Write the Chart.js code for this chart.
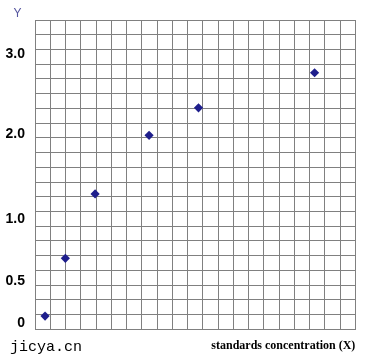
<!DOCTYPE html>
<html>
<head>
<meta charset="utf-8">
<script src="https://cdn.jsdelivr.net/npm/chart.js@4/dist/chart.umd.min.js"></script>
<style>
  html, body { margin: 0; padding: 0; background: #ffffff; }
  #wrap { width: 380px; height: 363px; }
</style>
</head>
<body>
<div id="wrap"><canvas id="c" width="380" height="363"></canvas></div>
<script>
// Positions measured in grid cells (21 x 21 grid)
const xValues = [0.66, 1.99, 3.94, 7.48, 10.72, 18.33];
const yValues = [0.90, 4.82, 9.19, 13.17, 15.04, 17.42];
// Y-axis labels and where they sit (in grid cells)
const yTickPositions = [0.43, 3.25, 7.49, 13.26, 18.69];
const yTickLabels = ['0', '0.5', '1.0', '2.0', '3.0'];
const xAxisTitle = 'standards concentration (X)';
const yAxisTitle = 'Y';
const footText = 'jicya.cn';
const gridCells = 21;

const points = xValues.map((x, i) => ({ x: x, y: yValues[i] }));
const gridColor = '#808080';

const textPlugin = {
  id: 'extraText',
  afterDraw(chart) {
    const ctx = chart.ctx;
    ctx.save();
    ctx.fillStyle = '#55559f';
    ctx.font = '12px "Liberation Sans", Arial, sans-serif';
    ctx.textAlign = 'center';
    ctx.textBaseline = 'middle';
    ctx.fillText(yAxisTitle, 17.5, 14);
    ctx.fillStyle = '#000000';
    ctx.font = '15px "Liberation Mono", "Courier New", monospace';
    ctx.textAlign = 'left';
    ctx.fillText(footText, 10, 347);
    ctx.restore();
  }
};

const isLabelTick = v => yTickPositions.indexOf(v) >= 0;

new Chart(document.getElementById('c'), {
  type: 'scatter',
  data: {
    datasets: [{
      data: points,
      pointStyle: 'rectRot',
      pointRadius: 4.6,
      pointHoverRadius: 4.6,
      backgroundColor: '#1e1e8c',
      borderColor: '#1e1e8c',
      borderWidth: 0
    }]
  },
  options: {
    responsive: false,
    animation: false,
    devicePixelRatio: 1,
    layout: { padding: { left: 0, top: 20, right: 24.7, bottom: 6.3 } },
    plugins: { legend: { display: false }, tooltip: { enabled: false } },
    scales: {
      x: {
        type: 'linear',
        min: 0, max: gridCells,
        ticks: { display: false, stepSize: 1 },
        grid: { color: gridColor, lineWidth: 1, drawTicks: false },
        border: { display: true, color: gridColor },
        title: {
          display: true,
          text: xAxisTitle,
          align: 'end',
          color: '#000000',
          font: { family: '"Liberation Serif", "Times New Roman", serif', size: 12, weight: 'bold' },
          padding: { top: 9, bottom: 4 }
        }
      },
      y: {
        type: 'linear',
        position: 'left',
        min: 0, max: gridCells,
        afterBuildTicks(scale) {
          const vals = [];
          for (let i = 0; i <= gridCells; i++) vals.push(i);
          yTickPositions.forEach(v => vals.push(v));
          vals.sort((a, b) => a - b);
          scale.ticks = vals.map(v => ({ value: v }));
        },
        afterFit(scale) { scale.width = 35; },
        ticks: {
          autoSkip: false,
          padding: 10,
          color: '#000000',
          font: { family: '"Liberation Sans", Arial, sans-serif', size: 14, weight: 'bold' },
          callback(value) {
            const i = yTickPositions.indexOf(value);
            return i >= 0 ? yTickLabels[i] : '';
          }
        },
        grid: {
          drawTicks: false,
          lineWidth: 1,
          color: ctx => (ctx.tick && isLabelTick(ctx.tick.value)) ? 'rgba(0,0,0,0)' : gridColor
        },
        border: { display: false }
      }
    }
  },
  plugins: [textPlugin]
});
</script>
</body>
</html>
